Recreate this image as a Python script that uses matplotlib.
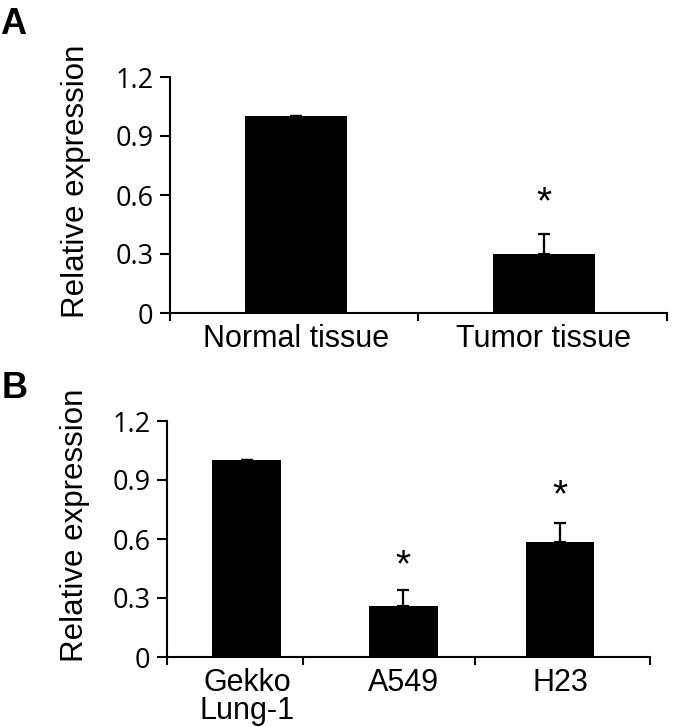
import matplotlib.pyplot as plt
import numpy as np

# Panel A: tissue samples
tissue_labels = ["Normal tissue", "Tumor tissue"]
tissue_values = [1.0, 0.30]
tissue_errors = [0.0, 0.10]
tissue_stars = [None, 0.615]

# Panel B: cell lines
cell_labels = ["Gekko\nLung-1", "A549", "H23"]
cell_values = [1.0, 0.26, 0.585]
cell_errors = [0.0, 0.08, 0.095]
cell_stars = [None, 0.52, 0.875]

yticks = [0, 0.3, 0.6, 0.9, 1.2]
ytick_labels = ["0", "0.3", "0.6", "0.9", "1.2"]

fig = plt.figure(figsize=(6.85, 7.27), dpi=100)
ax_a = fig.add_axes([170 / 685, 1 - 313 / 727, 497 / 685, 236 / 727])
ax_b = fig.add_axes([167 / 685, 1 - 657 / 727, 483 / 685, 236 / 727])


def draw_panel(ax, labels, values, errors, stars, width, xlim, seps, label_x):
    x = np.arange(len(labels))
    ax.bar(x, values, width, color="black", zorder=2)
    # upper error bars only
    ax.errorbar(x, values, yerr=[np.zeros(len(errors)), errors], fmt="none",
                ecolor="black", elinewidth=1.6, capsize=4.5, capthick=1.6, zorder=3)
    for xi, s in zip(x, stars):
        if s is not None:
            # asterisk glyph sits high in its box, so nudge it down
            ax.annotate("*", xy=(xi, s), xytext=(0, -8), textcoords="offset points",
                        ha="center", va="center", fontsize=28,
                        family="Liberation Sans")

    ax.set_xlim(*xlim)
    ax.set_ylim(0, 1.2)
    ax.set_yticks(yticks)
    ax.set_yticklabels(ytick_labels, family="Open Sans", fontsize=19.5)
    ax.tick_params(axis="y", direction="out", length=7, width=1.5, pad=5)

    ax.set_xticks(x)
    ax.set_xticklabels(labels, family="Liberation Sans", fontsize=22,
                       linespacing=0.9)
    ax.tick_params(axis="x", which="major", length=0, pad=8)
    ax.set_xticks([xlim[0]] + seps + [xlim[1]], minor=True)
    ax.tick_params(axis="x", which="minor", direction="out", length=6, width=1.5)

    for side in ["top", "right"]:
        ax.spines[side].set_visible(False)
    for side in ["left", "bottom"]:
        ax.spines[side].set_linewidth(1.5)

    ax.set_ylabel("Relative expression", family="Liberation Sans", fontsize=22.5)
    ax.yaxis.label.set_va("center")
    ax.yaxis.set_label_coords(label_x, 0.56)


draw_panel(ax_a, tissue_labels, tissue_values, tissue_errors, tissue_stars,
           0.41, (-0.508, 1.496), [0.49], -0.19)
draw_panel(ax_b, cell_labels, cell_values, cell_errors, cell_stars,
           0.44, (-0.51, 2.575), [0.36, 1.46], -0.19)

fig.text(0 / 685, 1 - 24 / 727, "A", fontsize=26, fontweight="bold",
         family="Liberation Sans", va="center", ha="left")
fig.text(2 / 685, 1 - 389 / 727, "B", fontsize=26, fontweight="bold",
         family="Liberation Sans", va="center", ha="left")

fig.savefig("out.png", dpi=100)
